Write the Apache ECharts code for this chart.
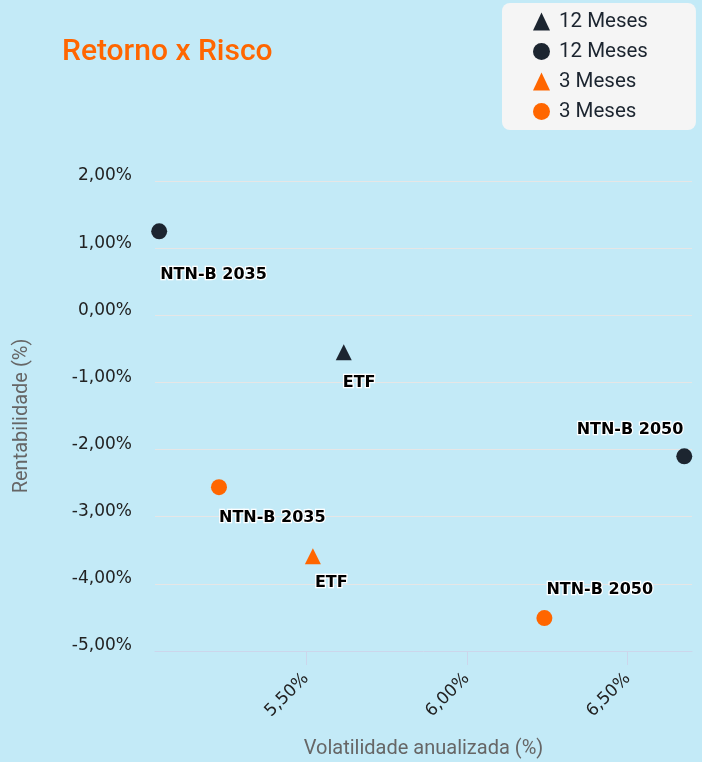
<!DOCTYPE html>
<html>
<head>
<meta charset="utf-8">
<script src="https://cdn.jsdelivr.net/npm/echarts@6/dist/echarts.min.js"></script>
<style>
html,body{margin:0;padding:0;background:#c3eaf7;}
#chart{width:702px;height:762px;}
</style>
</head>
<body>
<div id="chart"></div>
<script>
// ---- data ----
const titleText = 'Retorno x Risco';
const xAxisName = 'Volatilidade anualizada (%)';
const yAxisName = 'Rentabilidade (%)';
const xTicks = [5.5, 6.0, 6.5];
const yTicks = [-5, -4, -3, -2, -1, 0, 1, 2];
const legendLabels = ['12 Meses', '12 Meses', '3 Meses', '3 Meses'];

// [volatilidade, rentabilidade]
const etf12Names = ['ETF'];
const etf12 = [[5.617, -0.55]];
const ntnb12Names = ['NTN-B 2035', 'NTN-B 2050'];
const ntnb12 = [[5.043, 1.25], [6.676, -2.10]];
const etf3Names = ['ETF'];
const etf3 = [[5.521, -3.59]];
const ntnb3Names = ['NTN-B 2035', 'NTN-B 2050'];
const ntnb3 = [[5.229, -2.56], [6.241, -4.51]];

// ---- styles ----
const DARK = '#1c2530';
const ORANGE = '#ff6600';
const labelFont = 'DejaVu Sans';
const uiFont = 'Roboto';

// label placement per series (style, not data)
const labelPlace = {
  etf12: [{align: 'left', offset: [-1, 31]}],
  ntnb12: [{align: 'left', offset: [1, 43]}, {align: 'right', offset: [-1, -26]}],
  etf3: [{align: 'left', offset: [2, 27]}],
  ntnb3: [{align: 'left', offset: [0, 31]}, {align: 'left', offset: [2, -28]}]
};

function fmtPct(v) {
  return v.toFixed(2).replace('.', ',') + '%';
}

function buildData(values, names, places) {
  return values.map((v, i) => ({
    name: names[i],
    value: v,
    label: {
      position: 'inside',
      align: places[i].align,
      verticalAlign: 'middle',
      offset: places[i].offset
    }
  }));
}

function makeSeries(id, name, symbol, color, values, names) {
  return {
    id: id,
    name: name,
    type: 'scatter',
    symbol: symbol,
    symbolSize: 16,
    itemStyle: {color: color, opacity: 1},
    data: buildData(values, names, labelPlace[id]),
    label: {
      show: true,
      formatter: p => p.name,
      color: '#000',
      fontFamily: labelFont,
      fontWeight: 'bold',
      fontSize: 16,
      textBorderColor: '#fff',
      textBorderWidth: 2.5
    },
    emphasis: {disabled: true}
  };
}

const seriesNames = ['12M ETF', '12M NTN-B', '3M ETF', '3M NTN-B'];

const chart = echarts.init(document.getElementById('chart'), null, {renderer: 'canvas'});
chart.setOption({
  backgroundColor: '#c3eaf7',
  animation: false,
  title: {
    text: titleText,
    left: 57,
    top: 32,
    textStyle: {color: ORANGE, fontFamily: uiFont, fontWeight: 500, fontSize: 30}
  },
  legend: {
    orient: 'vertical',
    left: 502,
    top: 3,
    padding: [8, 48, 8, 31],
    itemGap: 9,
    itemWidth: 17,
    itemHeight: 18,
    backgroundColor: '#f5f5f5',
    borderRadius: 8,
    data: seriesNames,
    formatter: name => legendLabels[seriesNames.indexOf(name)],
    textStyle: {color: DARK, fontFamily: uiFont, fontSize: 20.5, padding: [0, 0, 0, 4]},
    selectedMode: false
  },
  grid: {left: 155, right: 10, top: 181, bottom: 111, containLabel: false, outerBoundsMode: 'none'},
  xAxis: {
    type: 'value',
    min: 5.03,
    max: 6.70,
    name: xAxisName,
    nameLocation: 'middle',
    nameGap: 88,
    nameTextStyle: {color: '#666', fontFamily: uiFont, fontSize: 20},
    axisLine: {show: true, onZero: false, lineStyle: {color: '#ccd6eb'}},
    axisTick: {show: true, length: 14, lineStyle: {color: '#ccd6eb'}, customValues: xTicks},
    axisLabel: {
      customValues: xTicks,
      rotate: 45,
      margin: 25,
      color: '#222',
      fontFamily: labelFont,
      fontSize: 17,
      formatter: v => fmtPct(v)
    },
    splitLine: {show: false}
  },
  yAxis: {
    type: 'value',
    min: yTicks[0],
    max: yTicks[yTicks.length - 1],
    interval: 1,
    name: yAxisName,
    nameLocation: 'middle',
    nameGap: 123,
    nameTextStyle: {color: '#666', fontFamily: uiFont, fontSize: 20},
    axisLine: {show: false},
    axisTick: {show: false},
    axisLabel: {
      margin: 23,
      color: '#222',
      fontFamily: labelFont,
      fontSize: 17,
      verticalAlign: 'bottom',
      lineHeight: 10,
      formatter: v => fmtPct(v)
    },
    splitLine: {show: true, lineStyle: {color: '#e6e6e6'}}
  },
  series: [
    makeSeries('etf12', seriesNames[0], 'triangle', DARK, etf12, etf12Names),
    makeSeries('ntnb12', seriesNames[1], 'circle', DARK, ntnb12, ntnb12Names),
    makeSeries('etf3', seriesNames[2], 'triangle', ORANGE, etf3, etf3Names),
    makeSeries('ntnb3', seriesNames[3], 'circle', ORANGE, ntnb3, ntnb3Names)
  ]
});
</script>
</body>
</html>
